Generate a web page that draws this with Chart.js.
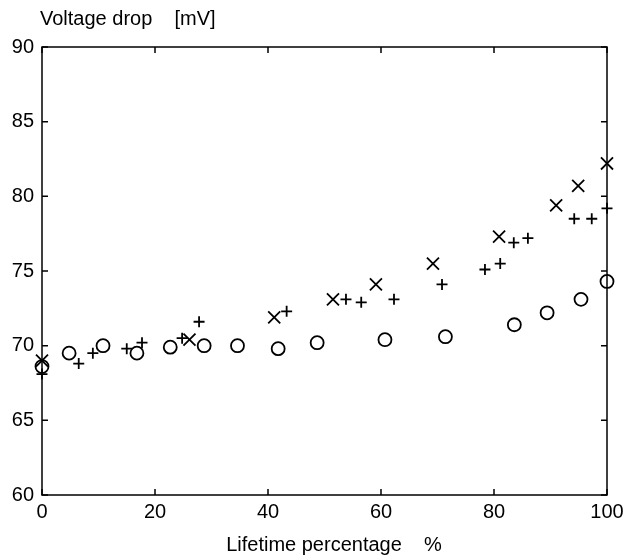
<!DOCTYPE html>
<html>
<head>
<meta charset="utf-8">
<script src="https://cdn.jsdelivr.net/npm/chart.js@4.4.1/dist/chart.umd.min.js"></script>
<style>
  html, body { margin: 0; padding: 0; background: #fff; }
  #wrap { width: 629px; height: 555px; }
</style>
</head>
<body>
<div id="wrap"><canvas id="chart" width="629" height="555"></canvas></div>
<script>
// Lifetime percentage (%) and voltage drop (mV)
const circleX = [0, 4.8, 10.8, 16.8, 22.7, 28.7, 34.6, 41.8, 48.7, 60.7, 71.4, 83.6, 89.4, 95.4, 100];
const circleY = [68.6, 69.5, 70.0, 69.5, 69.9, 70.0, 70.0, 69.8, 70.2, 70.4, 70.6, 71.4, 72.2, 73.1, 74.3];

const crossX = [0, 26.1, 41.1, 51.5, 59.1, 69.2, 80.9, 91.0, 94.9, 100];
const crossY = [69.0, 70.4, 71.9, 73.1, 74.1, 75.5, 77.3, 79.4, 80.7, 82.2];

const plusX = [0, 6.5, 9.0, 15.0, 17.7, 24.8, 27.8, 43.3, 53.8, 56.5, 62.3, 70.8, 78.4, 81.1, 83.5, 86.0, 94.2, 97.3, 100];
const plusY = [68.1, 68.8, 69.5, 69.8, 70.2, 70.5, 71.6, 72.3, 73.1, 72.9, 73.1, 74.1, 75.1, 75.5, 76.9, 77.2, 78.5, 78.5, 79.2];

const xTicks = [0, 20, 40, 60, 80, 100];
const yTicks = [60, 65, 70, 75, 80, 85, 90];

const FONT = 'Liberation Sans, Arial, Helvetica, sans-serif';

function toPoints(xs, ys) {
    return xs.map((x, i) => ({ x: x, y: ys[i] }));
}

// frame with inward ticks on all four sides, plus the axis titles
const framePlugin = {
    id: 'frame',
    afterDraw(chart) {
        const ctx = chart.ctx;
        const a = chart.chartArea;
        const xs = chart.scales.x;
        const ys = chart.scales.y;
        const tl = 6;
        ctx.save();
        ctx.strokeStyle = '#000';
        ctx.lineWidth = 1.5;
        ctx.strokeRect(a.left, a.top, a.right - a.left, a.bottom - a.top);
        ctx.beginPath();
        xTicks.forEach(v => {
            const px = xs.getPixelForValue(v);
            ctx.moveTo(px, a.bottom); ctx.lineTo(px, a.bottom - tl);
            ctx.moveTo(px, a.top); ctx.lineTo(px, a.top + tl);
        });
        yTicks.forEach(v => {
            const py = ys.getPixelForValue(v);
            ctx.moveTo(a.left, py); ctx.lineTo(a.left + tl, py);
            ctx.moveTo(a.right, py); ctx.lineTo(a.right - tl, py);
        });
        ctx.stroke();

        ctx.fillStyle = '#000';
        ctx.font = '20px ' + FONT;
        ctx.textBaseline = 'alphabetic';
        ctx.textAlign = 'left';
        ctx.fillText('Voltage drop    [mV]', 40, 25);
        ctx.textAlign = 'center';
        ctx.fillText('Lifetime percentage    %', 334, 551);
        ctx.restore();
    }
};

new Chart(document.getElementById('chart'), {
    type: 'scatter',
    data: {
        datasets: [
            {
                label: 'o',
                data: toPoints(circleX, circleY),
                pointStyle: 'circle',
                pointRadius: 6.5,
                borderColor: '#000',
                backgroundColor: 'rgba(0,0,0,0)',
                borderWidth: 1.8,
                clip: false
            },
            {
                label: 'x',
                data: toPoints(crossX, crossY),
                pointStyle: 'crossRot',
                pointRadius: 8.5,
                borderColor: '#000',
                backgroundColor: '#000',
                borderWidth: 1.8,
                clip: false
            },
            {
                label: '+',
                data: toPoints(plusX, plusY),
                pointStyle: 'cross',
                pointRadius: 5.5,
                borderColor: '#000',
                backgroundColor: '#000',
                borderWidth: 1.8,
                clip: false
            }
        ]
    },
    options: {
        responsive: false,
        animation: false,
        layout: { padding: { top: 47, right: 22, left: 0, bottom: 0 } },
        plugins: {
            legend: { display: false },
            tooltip: { enabled: false }
        },
        scales: {
            x: {
                type: 'linear',
                min: 0,
                max: 100,
                afterFit(scale) { scale.height = 60; },
                afterBuildTicks(scale) { scale.ticks = xTicks.map(v => ({ value: v })); },
                grid: { display: false, drawTicks: false },
                border: { display: false },
                ticks: {
                    color: '#000',
                    padding: 5,
                    font: { family: FONT, size: 20 }
                }
            },
            y: {
                type: 'linear',
                min: 60,
                max: 90,
                afterFit(scale) { scale.width = 42; },
                afterBuildTicks(scale) { scale.ticks = yTicks.map(v => ({ value: v })); },
                grid: { display: false, drawTicks: false },
                border: { display: false },
                ticks: {
                    color: '#000',
                    padding: 8,
                    font: { family: FONT, size: 20 }
                }
            }
        }
    },
    plugins: [framePlugin]
});
</script>
</body>
</html>
